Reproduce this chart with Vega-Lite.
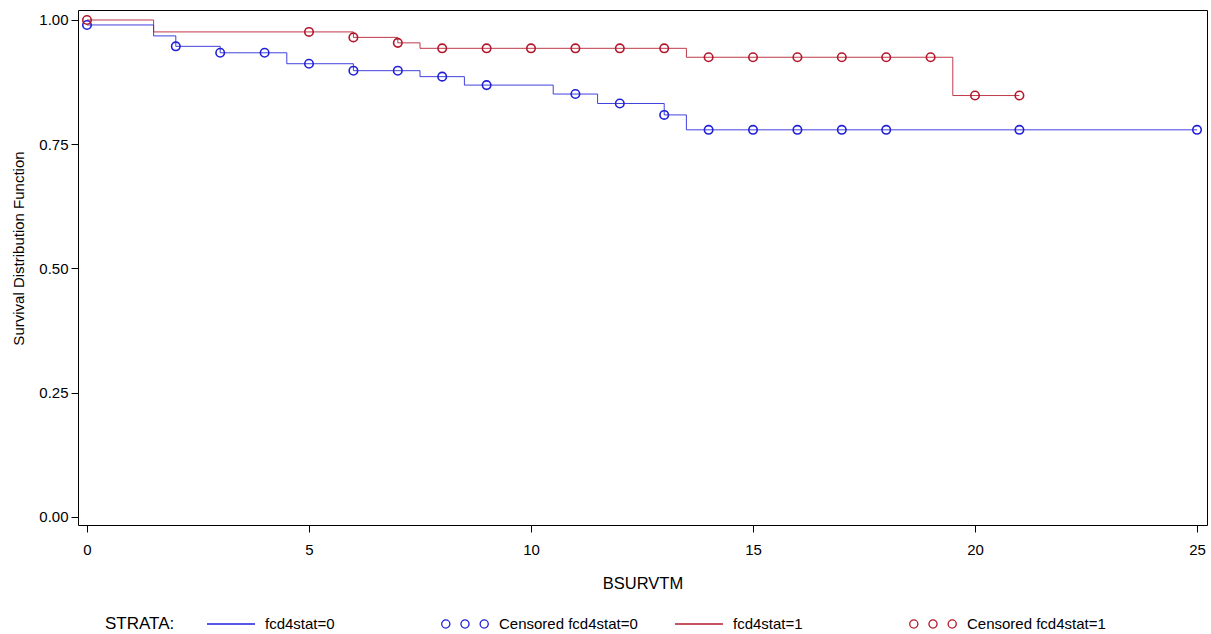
{
  "$schema": "https://vega.github.io/schema/vega-lite/v6.json",
  "width": 1129,
  "height": 515,
  "autosize": {"type": "none"},
  "padding": {"left": 78, "top": 10, "right": 4, "bottom": 109},
  "background": "white",
  "config": {
    "font": "Liberation Sans",
    "view": {"stroke": "#000000", "strokeWidth": 1},
    "axis": {
      "grid": false,
      "domain": false,
      "tickColor": "#000000",
      "tickSize": 7,
      "labelColor": "#000000",
      "titleColor": "#000000",
      "labelFont": "Liberation Sans",
      "titleFont": "Liberation Sans",
      "titleFontWeight": "normal",
      "labelFontSize": 15,
      "titleFontSize": 15
    }
  },
  "datasets": {
    "curve": [
      {"key": "fcd4stat=0", "t": 0, "s": 0.99},
      {"key": "fcd4stat=0", "t": 1.5, "s": 0.968},
      {"key": "fcd4stat=0", "t": 2, "s": 0.947},
      {"key": "fcd4stat=0", "t": 3, "s": 0.934},
      {"key": "fcd4stat=0", "t": 4.5, "s": 0.912},
      {"key": "fcd4stat=0", "t": 6, "s": 0.898},
      {"key": "fcd4stat=0", "t": 7.5, "s": 0.886},
      {"key": "fcd4stat=0", "t": 8.5, "s": 0.869},
      {"key": "fcd4stat=0", "t": 10.5, "s": 0.851},
      {"key": "fcd4stat=0", "t": 11.5, "s": 0.832},
      {"key": "fcd4stat=0", "t": 13, "s": 0.809},
      {"key": "fcd4stat=0", "t": 13.5, "s": 0.779},
      {"key": "fcd4stat=0", "t": 25, "s": 0.779},
      {"key": "fcd4stat=1", "t": 0, "s": 1.0},
      {"key": "fcd4stat=1", "t": 1.5, "s": 0.976},
      {"key": "fcd4stat=1", "t": 6, "s": 0.965},
      {"key": "fcd4stat=1", "t": 7, "s": 0.954},
      {"key": "fcd4stat=1", "t": 7.5, "s": 0.943},
      {"key": "fcd4stat=1", "t": 13.5, "s": 0.925},
      {"key": "fcd4stat=1", "t": 19.5, "s": 0.848},
      {"key": "fcd4stat=1", "t": 21, "s": 0.848}
    ],
    "censored": [
      {"key": "Censored fcd4stat=0", "t": 0, "s": 0.99},
      {"key": "Censored fcd4stat=0", "t": 2, "s": 0.947},
      {"key": "Censored fcd4stat=0", "t": 3, "s": 0.934},
      {"key": "Censored fcd4stat=0", "t": 4, "s": 0.934},
      {"key": "Censored fcd4stat=0", "t": 5, "s": 0.912},
      {"key": "Censored fcd4stat=0", "t": 6, "s": 0.898},
      {"key": "Censored fcd4stat=0", "t": 7, "s": 0.898},
      {"key": "Censored fcd4stat=0", "t": 8, "s": 0.886},
      {"key": "Censored fcd4stat=0", "t": 9, "s": 0.869},
      {"key": "Censored fcd4stat=0", "t": 11, "s": 0.851},
      {"key": "Censored fcd4stat=0", "t": 12, "s": 0.832},
      {"key": "Censored fcd4stat=0", "t": 13, "s": 0.809},
      {"key": "Censored fcd4stat=0", "t": 14, "s": 0.779},
      {"key": "Censored fcd4stat=0", "t": 15, "s": 0.779},
      {"key": "Censored fcd4stat=0", "t": 16, "s": 0.779},
      {"key": "Censored fcd4stat=0", "t": 17, "s": 0.779},
      {"key": "Censored fcd4stat=0", "t": 18, "s": 0.779},
      {"key": "Censored fcd4stat=0", "t": 21, "s": 0.779},
      {"key": "Censored fcd4stat=0", "t": 25, "s": 0.779},
      {"key": "Censored fcd4stat=1", "t": 0, "s": 1.0},
      {"key": "Censored fcd4stat=1", "t": 5, "s": 0.976},
      {"key": "Censored fcd4stat=1", "t": 6, "s": 0.965},
      {"key": "Censored fcd4stat=1", "t": 7, "s": 0.954},
      {"key": "Censored fcd4stat=1", "t": 8, "s": 0.943},
      {"key": "Censored fcd4stat=1", "t": 9, "s": 0.943},
      {"key": "Censored fcd4stat=1", "t": 10, "s": 0.943},
      {"key": "Censored fcd4stat=1", "t": 11, "s": 0.943},
      {"key": "Censored fcd4stat=1", "t": 12, "s": 0.943},
      {"key": "Censored fcd4stat=1", "t": 13, "s": 0.943},
      {"key": "Censored fcd4stat=1", "t": 14, "s": 0.925},
      {"key": "Censored fcd4stat=1", "t": 15, "s": 0.925},
      {"key": "Censored fcd4stat=1", "t": 16, "s": 0.925},
      {"key": "Censored fcd4stat=1", "t": 17, "s": 0.925},
      {"key": "Censored fcd4stat=1", "t": 18, "s": 0.925},
      {"key": "Censored fcd4stat=1", "t": 19, "s": 0.925},
      {"key": "Censored fcd4stat=1", "t": 20, "s": 0.848},
      {"key": "Censored fcd4stat=1", "t": 21, "s": 0.848}
    ]
  },
  "encoding": {
    "x": {
      "field": "t",
      "type": "quantitative",
      "scale": {"domain": [-0.2027, 25.225], "nice": false, "zero": false},
      "axis": {
        "values": [0, 5, 10, 15, 20, 25],
        "title": "BSURVTM",
        "labelPadding": 10,
        "titlePadding": 18,
        "titleFontSize": 16.5,
        "labelFlush": false
      }
    },
    "y": {
      "field": "s",
      "type": "quantitative",
      "scale": {"domain": [-0.0161, 1.0201], "nice": false, "zero": false},
      "axis": {
        "values": [0, 0.25, 0.5, 0.75, 1],
        "format": ".2f",
        "title": "Survival Distribution Function",
        "labelPadding": 3,
        "titlePadding": 12,
        "titleY": 238
      }
    },
    "color": {
      "field": "key",
      "type": "nominal",
      "scale": {
        "domain": ["fcd4stat=0", "Censored fcd4stat=0", "fcd4stat=1", "Censored fcd4stat=1"],
        "range": ["#2020d8", "#2020d8", "#b3172b", "#b3172b"]
      },
      "legend": {
        "orient": "none",
        "legendX": 27,
        "legendY": 589,
        "direction": "horizontal",
        "columns": 4,
        "gridAlign": "all",
        "title": "STRATA:",
        "titleOrient": "left",
        "titlePadding": 31,
        "titleFontSize": 17,
        "titleFontWeight": "normal",
        "titleColor": "#000000",
        "titleAnchor": "middle",
        "titleBaseline": "top",
        "labelFontSize": 15,
        "labelColor": "#000000",
        "labelOffset": 9,
        "columnPadding": 34,
        "symbolSize": 2304,
        "symbolStrokeWidth": 1.3,
        "symbolOpacity": 1,
        "symbolFillColor": "transparent",
        "symbolType": {"expr": "indexof(datum.value, 'Censored') == 0 ? 'M-0.63,0A0.17,0.17 0 1,1 -0.97,0A0.17,0.17 0 1,1 -0.63,0ZM0.17,0A0.17,0.17 0 1,1 -0.17,0A0.17,0.17 0 1,1 0.17,0ZM0.97,0A0.17,0.17 0 1,1 0.63,0A0.17,0.17 0 1,1 0.97,0Z' : 'stroke'"},
        "padding": 0
      }
    }
  },
  "layer": [
    {
      "data": {"name": "curve"},
      "mark": {"type": "line", "interpolate": "step-after", "strokeWidth": 1, "strokeOpacity": 0.85}
    },
    {
      "data": {"name": "censored"},
      "mark": {"type": "point", "shape": "circle", "filled": false, "size": 72, "strokeWidth": 1.6, "opacity": 1}
    }
  ]
}
